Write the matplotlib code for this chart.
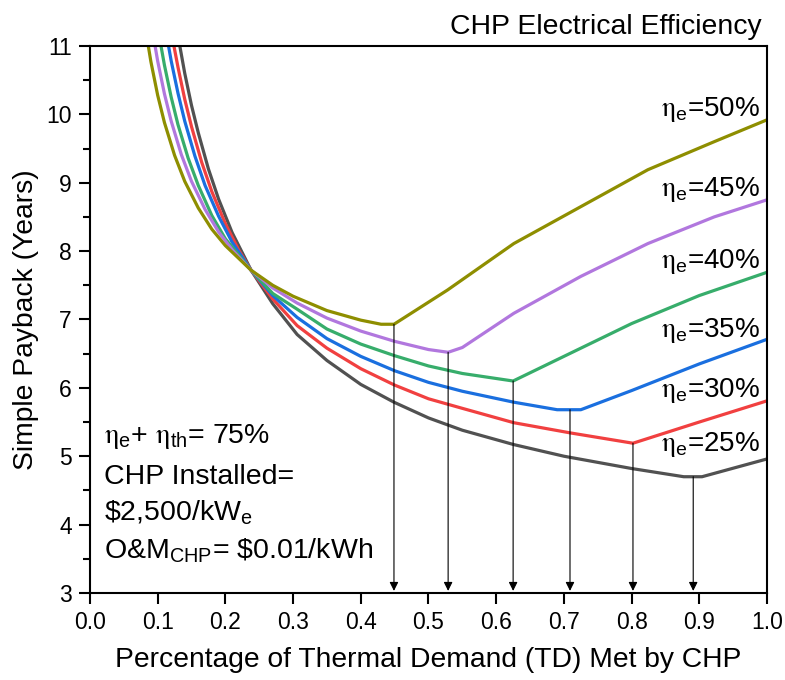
import numpy as np
import matplotlib
matplotlib.use("Agg")
import matplotlib.pyplot as plt

plt.rcParams['font.family'] = ['Liberation Sans', 'DejaVu Sans']
plt.rcParams['mathtext.fontset'] = 'custom'
plt.rcParams['mathtext.rm'] = 'Liberation Sans'
plt.rcParams['mathtext.it'] = 'Liberation Sans:italic'
plt.rcParams['mathtext.tt'] = 'STIXGeneral'

# payback curves, one per electrical efficiency
x_50 = [0.082, 0.09, 0.10, 0.11, 0.125, 0.14, 0.16, 0.18, 0.20, 0.238, 0.27, 0.30, 0.35, 0.40,
        0.43, 0.449, 0.528, 0.626, 0.725, 0.824, 0.922, 1.0]
y_50 = [11.25, 10.77, 10.28, 9.88, 9.40, 9.02, 8.63, 8.32, 8.08, 7.72, 7.50, 7.34, 7.13, 6.99,
        6.93, 6.93, 7.43, 8.11, 8.65, 9.19, 9.60, 9.92]

x_45 = [0.092, 0.10, 0.11, 0.12, 0.135, 0.15, 0.17, 0.19, 0.21, 0.238, 0.27, 0.306, 0.35, 0.40,
        0.45, 0.50, 0.529, 0.55, 0.626, 0.725, 0.824, 0.922, 1.0]
y_45 = [11.24, 10.78, 10.30, 9.90, 9.41, 9.02, 8.61, 8.28, 8.02, 7.72, 7.46, 7.24, 7.02, 6.83,
        6.68, 6.56, 6.52, 6.59, 7.09, 7.63, 8.11, 8.50, 8.75]

x_40 = [0.102, 0.11, 0.12, 0.13, 0.145, 0.16, 0.18, 0.20, 0.238, 0.27, 0.306, 0.35, 0.40,
        0.45, 0.50, 0.55, 0.625, 0.725, 0.80, 0.90, 1.0]
y_40 = [11.16, 10.72, 10.25, 9.85, 9.36, 8.96, 8.52, 8.18, 7.72, 7.38, 7.15, 6.86, 6.64,
        6.47, 6.32, 6.21, 6.10, 6.58, 6.94, 7.35, 7.69]

x_35 = [0.111, 0.12, 0.13, 0.14, 0.155, 0.17, 0.19, 0.21, 0.238, 0.27, 0.306, 0.35, 0.40,
        0.45, 0.50, 0.55, 0.626, 0.69, 0.725, 0.80, 0.90, 1.0]
y_35 = [11.28, 10.78, 10.31, 9.90, 9.39, 8.96, 8.51, 8.13, 7.72, 7.35, 7.03, 6.72, 6.46,
        6.25, 6.08, 5.95, 5.79, 5.68, 5.68, 5.96, 6.35, 6.71]

x_30 = [0.119, 0.124, 0.13, 0.14, 0.15, 0.165, 0.18, 0.20, 0.22, 0.238, 0.27, 0.306, 0.35,
        0.40, 0.45, 0.50, 0.55, 0.626, 0.71, 0.802, 0.90, 1.0]
y_30 = [11.29, 11.0, 10.69, 10.22, 9.82, 9.30, 8.87, 8.40, 8.01, 7.72, 7.30, 6.91, 6.58,
        6.28, 6.04, 5.84, 5.70, 5.49, 5.34, 5.19, 5.50, 5.81]

x_25 = [0.128, 0.14, 0.15, 0.16, 0.175, 0.19, 0.21, 0.238, 0.27, 0.306, 0.35, 0.40, 0.449,
        0.50, 0.55, 0.626, 0.70, 0.80, 0.877, 0.904, 1.0]
y_25 = [11.26, 10.60, 10.13, 9.73, 9.20, 8.76, 8.27, 7.72, 7.23, 6.78, 6.40, 6.05, 5.79,
        5.56, 5.38, 5.17, 5.00, 4.82, 4.70, 4.70, 4.96]

labels = ['50%', '45%', '40%', '35%', '30%', '25%']
label_y = [9.98, 8.80, 7.75, 6.75, 5.87, 5.07]
colors = ['#8E8E00', '#B177DE', '#37AD6B', '#1A6FDF', '#F14040', '#515151']

# arrows from each curve's minimum down to the x axis
arrow_x = [0.449, 0.529, 0.625, 0.709, 0.802, 0.891]
arrow_top = [6.93, 6.52, 6.10, 5.68, 5.19, 4.70]

fig = plt.figure(figsize=(7.85, 6.8), dpi=100)
ax = fig.add_axes([0.1146, 0.128, 0.8625, 0.8044])

series = [(x_50, y_50), (x_45, y_45), (x_40, y_40), (x_35, y_35), (x_30, y_30), (x_25, y_25)]
for (xs, ys), c in zip(series[::-1], colors[::-1]):
    ax.plot(xs, ys, color=c, lw=2.3, solid_joinstyle='round')

for xa, ya in zip(arrow_x, arrow_top):
    ax.annotate('', xy=(xa, 3.03), xytext=(xa, ya),
                arrowprops=dict(arrowstyle='-|>', color='black', lw=0.8,
                                mutation_scale=13, shrinkA=0, shrinkB=0))

for lab, yl in zip(labels, label_y):
    ax.text(0.99, yl, r'$\mathtt{η}_{\mathrm{e}}$=' + lab, ha='right', va='baseline',
            fontsize=20)

ax.text(0.02, 5.19, r'$\mathtt{η}_{\mathrm{e}}$+ $\mathtt{η}_{\mathrm{th}}$= 75%',
        fontsize=20.5, va='baseline')
ax.text(0.02, 4.60, 'CHP Installed=', fontsize=20.5, va='baseline')
ax.text(0.02, 4.06, r'\$2,500/kW$_{\mathrm{e}}$', fontsize=20.5, va='baseline')
ax.text(0.02, 3.50, r'O&M$_{\mathrm{CHP}}$= \$0.01/kWh', fontsize=20.5, va='baseline')

fig.text(0.971, 0.9495, 'CHP Electrical Efficiency', ha='right', va='baseline', fontsize=20.4)

ax.set_xlim(0, 1.0)
ax.set_ylim(3, 11)
ax.set_xticks(np.arange(0, 1.01, 0.1))
ax.set_xticklabels([f'{v:.1f}' for v in np.arange(0, 1.01, 0.1)])
ax.set_yticks(range(3, 12))
ax.set_yticks(np.arange(3.5, 11, 1.0), minor=True)
ax.tick_params(axis='both', which='major', direction='out', length=8, width=1.5,
               labelsize=16.5, pad=5)
ax.tick_params(axis='y', which='minor', direction='out', length=5, width=1.5)
for s in ax.spines.values():
    s.set_linewidth(1.5)

ax.set_xlabel('Percentage of Thermal Demand (TD) Met by CHP', fontsize=20.3, labelpad=9)
ax.set_ylabel('Simple Payback (Years)', fontsize=20.3, labelpad=5)

fig.savefig('out.png', dpi=100)
